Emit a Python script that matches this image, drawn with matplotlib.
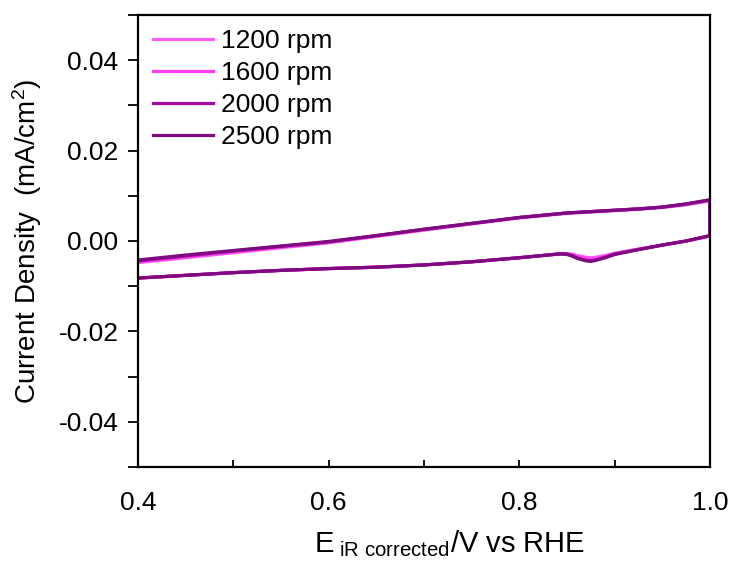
import numpy as np
import matplotlib.pyplot as plt
from matplotlib.ticker import MultipleLocator

# --- datos ---
rpm_labels = ['1200 rpm', '1600 rpm', '2000 rpm', '2500 rpm']
colores = ['#ff5cf5', '#ff3cf8', '#a40aa4', '#7e0a80']

# barrido anódico (0.4 -> 1.0 V)
E_ida = [0.40, 0.45, 0.50, 0.55, 0.60, 0.65, 0.70, 0.75, 0.80, 0.85, 0.90, 0.925, 0.95, 0.975, 1.00]
j_ida_1200 = [-0.0048, -0.0037, -0.0026, -0.0015, -0.0004, 0.0010, 0.0024, 0.0038, 0.0051, 0.0061, 0.0067, 0.0070, 0.0074, 0.0080, 0.0089]
j_ida_1600 = [-0.0046, -0.0035, -0.0024, -0.0013, -0.0003, 0.0011, 0.0025, 0.0038, 0.0052, 0.0062, 0.0068, 0.0071, 0.0075, 0.0081, 0.0090]
j_ida_2000 = [-0.0044, -0.0033, -0.0022, -0.0012, -0.0002, 0.0012, 0.0026, 0.0039, 0.0052, 0.0062, 0.0068, 0.0071, 0.0075, 0.0082, 0.0091]
j_ida_2500 = [-0.0042, -0.0031, -0.0021, -0.0011, -0.0001, 0.0012, 0.0026, 0.0039, 0.0052, 0.0062, 0.0068, 0.0071, 0.0075, 0.0082, 0.0091]

# barrido catódico (1.0 -> 0.4 V)
E_vuelta = [1.00, 0.975, 0.95, 0.925, 0.90, 0.89, 0.88, 0.875, 0.87, 0.86, 0.855, 0.85, 0.845, 0.84,
            0.82, 0.80, 0.75, 0.70, 0.65, 0.60, 0.55, 0.50, 0.45, 0.40]
j_vuelta_1200 = [0.0011, 0.0000, -0.0009, -0.0018, -0.0027, -0.0032, -0.0036, -0.0037, -0.0036, -0.0032, -0.0029, -0.0028, -0.0028, -0.0029,
                 -0.0033, -0.0037, -0.0046, -0.0053, -0.0058, -0.0061, -0.0065, -0.0070, -0.0076, -0.0082]
j_vuelta_1600 = [0.0011, 0.0000, -0.0009, -0.0018, -0.0028, -0.0034, -0.0039, -0.0040, -0.0039, -0.0034, -0.0030, -0.0028, -0.0028, -0.0029,
                 -0.0033, -0.0037, -0.0046, -0.0053, -0.0058, -0.0061, -0.0065, -0.0070, -0.0076, -0.0082]
j_vuelta_2000 = [0.0012, 0.0000, -0.0009, -0.0019, -0.0029, -0.0036, -0.0042, -0.0044, -0.0043, -0.0037, -0.0032, -0.0029, -0.0028, -0.0029,
                 -0.0033, -0.0037, -0.0046, -0.0053, -0.0058, -0.0061, -0.0065, -0.0070, -0.0076, -0.0082]
j_vuelta_2500 = [0.0012, 0.0000, -0.0009, -0.0019, -0.0030, -0.0037, -0.0043, -0.0045, -0.0044, -0.0038, -0.0033, -0.0030, -0.0029, -0.0029,
                 -0.0033, -0.0037, -0.0046, -0.0053, -0.0058, -0.0061, -0.0065, -0.0070, -0.0076, -0.0082]

ida = [j_ida_1200, j_ida_1600, j_ida_2000, j_ida_2500]
vuelta = [j_vuelta_1200, j_vuelta_1600, j_vuelta_2000, j_vuelta_2500]

plt.rcParams['font.family'] = ['Liberation Sans', 'DejaVu Sans']
plt.rcParams['mathtext.fontset'] = 'custom'
plt.rcParams['mathtext.rm'] = 'Liberation Sans'
plt.rcParams['mathtext.it'] = 'Liberation Sans'

fig = plt.figure(figsize=(7.31, 5.63), dpi=100)
ax = fig.add_axes([0.1888, 0.1705, 0.7825, 0.8029])

for lab, col, j1, j2 in zip(rpm_labels, colores, ida, vuelta):
    E = np.concatenate([E_ida, E_vuelta])
    j = np.concatenate([j1, j2])
    ax.plot(E, j, color=col, linewidth=2.3, label=lab, solid_joinstyle='round')

ax.set_xlim(0.4, 1.0)
ax.set_ylim(-0.05, 0.05)
ax.xaxis.set_major_locator(MultipleLocator(0.2))
ax.xaxis.set_minor_locator(MultipleLocator(0.1))
ax.yaxis.set_minor_locator(MultipleLocator(0.01))
ax.set_yticks([-0.04, -0.02, 0.0, 0.02, 0.04])
ax.yaxis.set_major_formatter(plt.FuncFormatter(lambda v, p: f'{v:.2f}'))
ax.xaxis.set_major_formatter(plt.FuncFormatter(lambda v, p: f'{v:.1f}'))

ax.tick_params(axis='y', which='both', direction='out', length=7, width=1.3, labelsize=19, pad=7)
ax.tick_params(axis='x', which='both', direction='in', length=5, width=1.3, labelsize=19, pad=17)
for s in ax.spines.values():
    s.set_linewidth(1.6)

ax.set_ylabel('Current Density  (mA/cm$^2$)', fontsize=20)
ax.yaxis.set_label_coords(-0.165, 0.5)
ax.set_xlabel('E$_{\\mathregular{\\ iR\\ corrected}}$/V vs RHE', fontsize=21)
ax.xaxis.set_label_coords(0.545, -0.135)

ax.legend(loc='upper left', bbox_to_anchor=(0.0, 1.0), frameon=False, fontsize=19,
          handlelength=2.3, handletextpad=0.3, labelspacing=0.3, borderaxespad=0.2,
          borderpad=0.35)

fig.savefig('out.png', dpi=100)
plt.close(fig)
